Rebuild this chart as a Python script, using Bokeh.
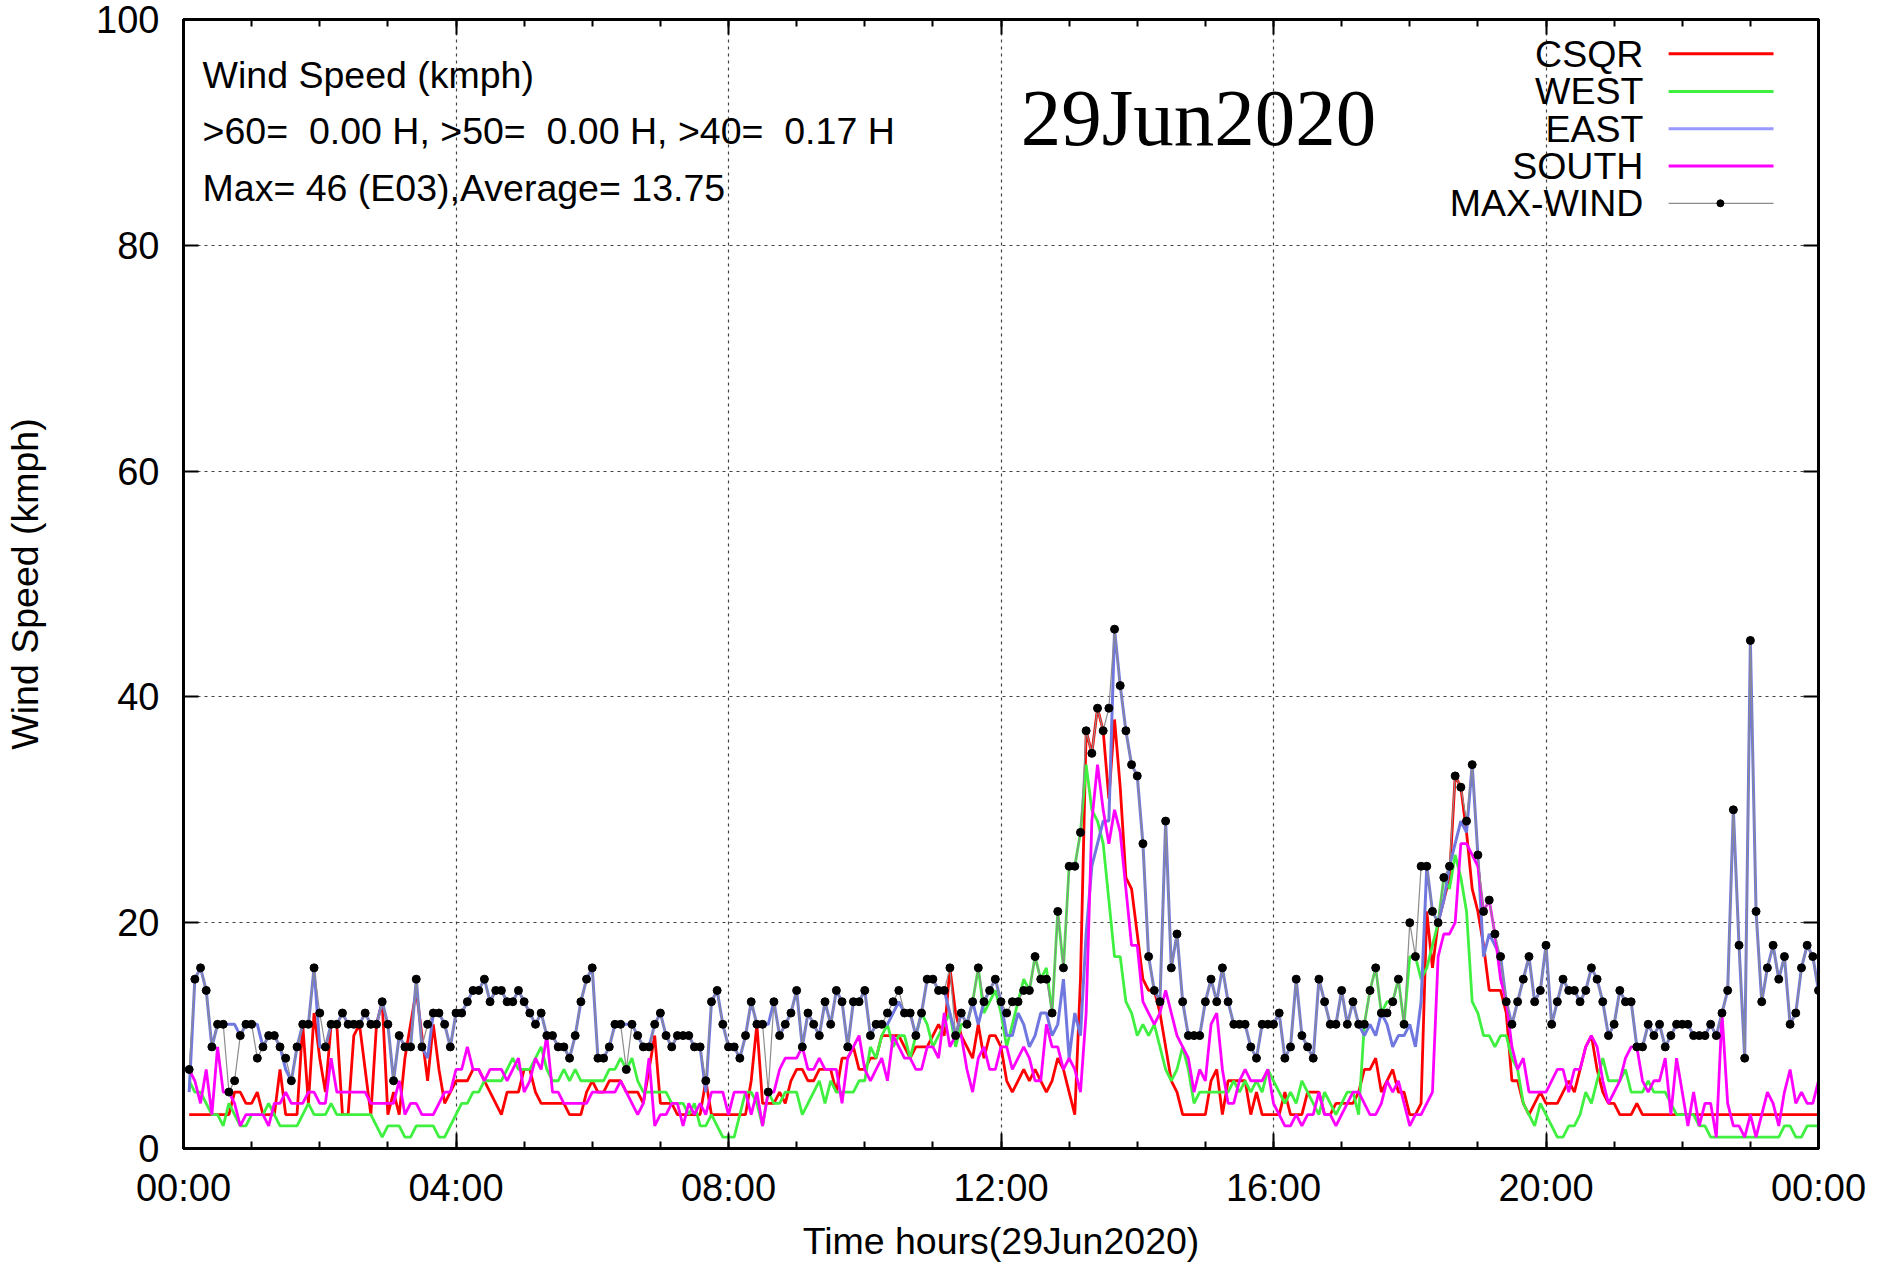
from bokeh.plotting import figure
from bokeh.models import Range1d, LinearAxis, FixedTicker, Label
from bokeh.embed import file_html
from bokeh.resources import INLINE

# ---------------- data (5-minute samples, 00:05 .. 24:00) ----------------
step_minutes = 5

csqr = [
 3,3,3,3,3,3,3,3,5,5,4,4,
 5,3,3,3,7,3,3,3,11,4,12,8,
 5,11,11,3,3,10,11,7,3,11,13,3,
 5,3,8,11,14,10,6,11,7,4,5,6,
 6,6,7,7,6,5,4,3,5,5,5,7,
 7,5,4,4,4,4,4,3,3,3,5,6,
 5,5,6,6,6,5,5,5,4,7,10,4,
 4,4,3,3,3,3,3,6,3,3,3,3,
 3,3,3,6,11,4,4,4,5,4,6,7,
 7,6,6,7,7,7,5,8,8,9,7,7,
 8,8,10,10,10,10,9,8,9,9,9,10,
 11,10,16,12,10,9,8,11,8,10,10,9,
 6,5,6,7,6,7,6,5,6,8,7,5,
 3,15,37,35,39,37,31,38,32,24,23,19,
 15,14,14,12,9,6,5,3,3,3,3,3,
 6,7,3,6,6,6,6,3,5,3,3,3,
 3,5,3,3,3,5,5,5,3,3,4,4,
 4,4,5,7,7,8,5,6,7,5,5,3,
 3,4,21,16,20,22,24,33,32,28,23,21,
 18,14,14,14,12,6,6,4,3,4,5,4,
 4,4,5,6,5,7,9,10,7,5,4,4,
 3,3,3,4,3,3,3,3,3,3,3,3,
 3,3,3,3,3,3,3,3,3,3,3,3,
 3,3,3,3,3,3,3,3,3,3,3,3,
]

west = [
 6,5,5,4,3,3,2,4,3,2,2,3,
 3,3,4,3,2,2,2,2,3,4,3,3,
 3,4,3,3,3,3,3,3,3,2,1,2,
 2,2,1,1,2,2,2,2,1,1,2,3,
 4,4,5,5,6,6,6,6,7,8,7,7,
 7,8,9,7,6,6,7,6,7,6,6,6,
 6,6,7,7,8,7,8,6,5,5,5,5,
 5,4,4,4,3,4,2,2,3,2,1,1,
 1,3,5,5,4,2,5,4,4,5,5,5,
 3,4,5,6,4,6,5,5,5,5,6,6,
 9,8,10,11,9,10,10,8,10,12,11,9,
 10,11,12,9,11,11,13,16,12,13,14,12,
 9,11,13,15,14,17,15,16,12,21,16,25,
 25,28,34,30,29,27,22,17,17,13,12,10,
 11,10,11,9,7,6,7,9,7,4,5,5,
 5,5,5,5,6,5,6,5,6,5,7,6,
 5,4,5,4,6,5,4,3,5,4,3,4,
 5,5,3,11,14,16,12,13,13,15,11,17,
 17,15,16,18,20,24,23,26,24,21,13,12,
 10,10,9,10,10,8,7,4,3,2,4,3,
 2,1,1,2,2,3,5,4,6,8,6,6,
 6,7,5,5,5,6,5,5,5,4,3,3,
 3,3,2,2,1,1,1,1,1,1,1,1,
 1,1,1,1,1,2,2,1,1,2,2,2,
]

east = [
 5,15,16,14,9,11,11,11,11,10,11,11,
 11,9,10,10,9,7,6,9,11,11,16,9,
 9,11,11,12,11,11,11,12,11,11,13,11,
 6,10,9,9,15,9,8,12,12,11,9,12,
 12,13,14,14,15,13,14,14,13,13,14,13,
 12,11,12,10,10,9,9,8,10,13,15,16,
 8,8,9,11,11,11,11,10,9,9,11,12,
 10,9,10,10,10,9,9,5,13,14,11,9,
 9,8,10,13,11,11,11,13,10,11,12,14,
 9,12,11,10,13,11,14,13,9,13,13,14,
 10,11,11,11,12,13,12,12,10,12,15,15,
 14,14,12,10,12,11,13,11,13,14,15,13,
 10,10,12,11,9,10,12,12,10,11,15,8,
 12,10,19,25,27,29,29,46,41,37,34,33,
 27,17,14,13,29,16,19,13,10,10,10,13,
 15,13,16,13,11,11,11,9,8,11,11,11,
 12,8,9,15,10,9,8,15,13,11,11,14,
 11,13,11,10,11,10,12,11,9,10,10,11,
 9,13,25,21,20,22,25,27,29,28,34,26,
 17,19,18,17,13,11,13,15,17,13,14,18,
 11,13,15,14,14,13,14,16,15,13,10,11,
 14,13,13,9,9,11,10,11,9,10,11,11,
 11,10,10,10,11,10,12,14,30,18,8,45,
 21,13,16,18,15,17,11,12,16,18,17,14,
]

south = [
 7,6,4,7,3,9,5,5,4,2,3,3,
 3,3,2,4,4,5,4,4,4,5,5,4,
 4,8,5,5,5,5,5,5,4,4,4,4,
 4,6,3,4,4,3,3,3,4,5,5,7,
 7,9,7,7,6,7,7,7,6,7,8,5,
 6,8,7,10,5,5,4,4,4,4,4,5,
 5,5,5,5,6,5,4,3,4,8,2,3,
 3,4,4,2,4,3,4,3,5,5,5,3,
 5,5,5,3,5,2,5,5,7,8,8,8,
 9,7,7,8,7,7,7,4,8,9,10,7,
 6,7,8,6,10,9,8,8,7,7,9,9,
 8,12,9,10,10,7,5,8,9,7,7,9,
 9,7,8,9,8,6,6,11,9,9,7,8,
 7,5,12,29,34,30,27,30,28,23,18,18,
 13,12,11,12,14,12,10,9,8,5,7,6,
 11,12,7,4,4,6,7,6,6,6,7,4,
 3,2,2,3,2,3,3,5,3,3,2,3,
 4,5,5,4,3,3,4,6,5,6,4,2,
 3,3,4,5,17,19,19,20,27,27,26,25,
 21,22,19,15,13,9,7,8,5,5,5,5,
 6,7,7,5,7,7,9,10,9,6,4,5,
 6,8,9,9,6,5,6,6,8,3,8,5,
 2,5,2,4,4,1,12,4,2,2,1,3,
 1,3,5,4,2,5,7,4,5,4,4,6,
]

max_wind = [
 7,15,16,14,9,11,11,5,6,10,11,11,
 8,9,10,10,9,8,6,9,11,11,16,12,
 9,11,11,12,11,11,11,12,11,11,13,11,
 6,10,9,9,15,9,11,12,12,11,9,12,
 12,13,14,14,15,13,14,14,13,13,14,13,
 12,11,12,10,10,9,9,8,10,13,15,16,
 8,8,9,11,11,7,11,10,9,9,11,12,
 10,9,10,10,10,9,9,6,13,14,11,9,
 9,8,10,13,11,11,5,13,10,11,12,14,
 9,12,11,10,13,11,14,13,9,13,13,14,
 10,11,11,12,13,14,12,12,10,12,15,15,
 14,14,16,10,12,11,13,16,13,14,15,13,
 12,13,13,14,14,17,15,15,12,21,16,25,
 25,28,37,35,39,37,39,46,41,37,34,33,
 27,17,14,13,29,16,19,13,10,10,10,13,
 15,13,16,13,11,11,11,9,8,11,11,11,
 12,8,9,15,10,9,8,15,13,11,11,14,
 11,13,11,11,14,16,12,12,13,15,11,20,
 17,25,25,21,20,24,25,33,32,29,34,26,
 21,22,19,17,13,11,13,15,17,13,14,18,
 11,13,15,14,14,13,14,16,15,13,10,11,
 14,13,13,9,9,11,10,11,9,10,11,11,
 11,10,10,10,11,10,12,14,30,18,8,45,
 21,13,16,18,15,17,11,12,16,18,17,14,
]

for s in (csqr, west, east, south, max_wind):
    assert len(s) == 288, len(s)

times_h = [(i + 1) * step_minutes / 60.0 for i in range(len(csqr))]

x_tick_positions = [0, 4, 8, 12, 16, 20, 24]
x_tick_labels = ["00:00", "04:00", "08:00", "12:00", "16:00", "20:00", "00:00"]
x_minor_positions = list(range(0, 25))
y_tick_positions = [0, 20, 40, 60, 80, 100]

legend_names = ["CSQR", "WEST", "EAST", "SOUTH", "MAX-WIND"]
series_colors = ["#ff0000", "#40f040", "#7078e0", "#ff00ff", "#8c8c8c"]

NB = "\u00a0"
info_lines = [
    "Wind Speed (kmph)",
    ">60= " + NB + "0.00 H, >50= " + NB + "0.00 H, >40= " + NB + "0.17 H",
    "Max= 46 (E03),Average= 13.75",
]
date_title = "29Jun2020"
x_label = "Time hours(29Jun2020)"
y_label = "Wind Speed (kmph)"

FONT = "Liberation Sans"
FS = "37.5px"
TICK_FS = "38px"

# ---------------- figure ----------------
p = figure(width=1886, height=1264, output_backend="svg", toolbar_location=None,
           x_range=Range1d(0, 24), y_range=Range1d(0, 100),
           min_border_left=183, min_border_right=68, min_border_top=19,
           min_border_bottom=115)
p.background_fill_color = "white"
p.border_fill_color = "white"
p.outline_line_color = "black"
p.outline_line_width = 3

xt = FixedTicker(ticks=x_tick_positions, minor_ticks=x_minor_positions)
yt = FixedTicker(ticks=y_tick_positions, minor_ticks=[])

xa = p.xaxis[0]
ya = p.yaxis[0]
xa.ticker = xt
ya.ticker = yt
xa.major_label_overrides = {k: v for k, v in zip(x_tick_positions, x_tick_labels)}
ya.major_label_overrides = {k: str(k) for k in y_tick_positions}

for ax in (xa, ya):
    ax.major_tick_in = 15
    ax.major_tick_out = 0
    ax.minor_tick_in = 7
    ax.minor_tick_out = 0
    ax.major_tick_line_width = 2
    ax.minor_tick_line_width = 2
    ax.major_tick_line_color = "black"
    ax.minor_tick_line_color = "black"
    ax.axis_line_width = 3
    ax.major_label_text_font = FONT
    ax.major_label_text_font_size = TICK_FS
    ax.major_label_text_color = "black"
    ax.axis_label_text_font = FONT
    ax.axis_label_text_font_size = FS
    ax.axis_label_text_font_style = "normal"
    ax.axis_label_text_color = "black"

xa.axis_label = x_label
ya.axis_label = y_label
xa.major_label_standoff = 18
xa.axis_label_standoff = 8
ya.major_label_standoff = 24
ya.axis_label_standoff = 47

top_axis = LinearAxis(ticker=FixedTicker(ticks=x_tick_positions, minor_ticks=x_minor_positions),
                      major_label_overrides={k: "" for k in x_tick_positions},
                      major_label_text_font_size="1px", major_label_standoff=0,
                      major_tick_in=15, major_tick_out=0, minor_tick_in=7, minor_tick_out=0,
                      major_tick_line_width=2, minor_tick_line_width=2, axis_line_width=3)
right_axis = LinearAxis(ticker=FixedTicker(ticks=y_tick_positions, minor_ticks=[]),
                        major_label_overrides={k: "" for k in y_tick_positions},
                        major_label_text_font_size="1px", major_label_standoff=0,
                        major_tick_in=15, major_tick_out=0, minor_tick_in=0, minor_tick_out=0,
                        major_tick_line_width=2, axis_line_width=3)
p.add_layout(top_axis, "above")
p.add_layout(right_axis, "right")

for g in (p.xgrid[0], p.ygrid[0]):
    g.grid_line_color = "#444444"
    g.grid_line_dash = "3 4"
    g.grid_line_width = 1.2

# ---------------- series ----------------
p.line(times_h, csqr, line_color=series_colors[0], line_width=2.8)
p.line(times_h, west, line_color=series_colors[1], line_width=2.8)
p.line(times_h, east, line_color=series_colors[2], line_width=3)
p.line(times_h, south, line_color=series_colors[3], line_width=2.8)
p.line(times_h, max_wind, line_color=series_colors[4], line_width=1.2)
p.scatter(times_h, max_wind, size=8, color="black")

# ---------------- annotations ----------------
info_y = [95.08, 90.09, 85.08]
for txt, yy in zip(info_lines, info_y):
    p.add_layout(Label(x=0.28, y=yy, text=txt, text_font=FONT, text_font_size=FS,
                       text_align="left", text_baseline="middle", text_color="black"))

p.add_layout(Label(x=12.29, y=91.3, text=date_title, text_font="Liberation Serif",
                   text_font_size="81px", text_align="left", text_baseline="middle",
                   text_color="black"))

# legend (gnuplot style: label on the left, sample on the right)
leg_rows = [96.96, 93.63, 90.32, 87.02, 83.72]
for name, col, yy in zip(legend_names, series_colors, leg_rows):
    p.add_layout(Label(x=21.43, y=yy, text=name, text_font=FONT, text_font_size=FS,
                       text_align="right", text_baseline="middle", text_color="black"))
    lw = 1.2 if name == "MAX-WIND" else 3
    col_leg = "#9999ff" if name == "EAST" else col
    p.segment(x0=[21.80], y0=[yy], x1=[23.34], y1=[yy], line_color=col_leg, line_width=lw)
p.scatter(x=[22.56], y=[leg_rows[-1]], size=7, color="black")

open("out.html", "w").write(file_html(p, INLINE))
